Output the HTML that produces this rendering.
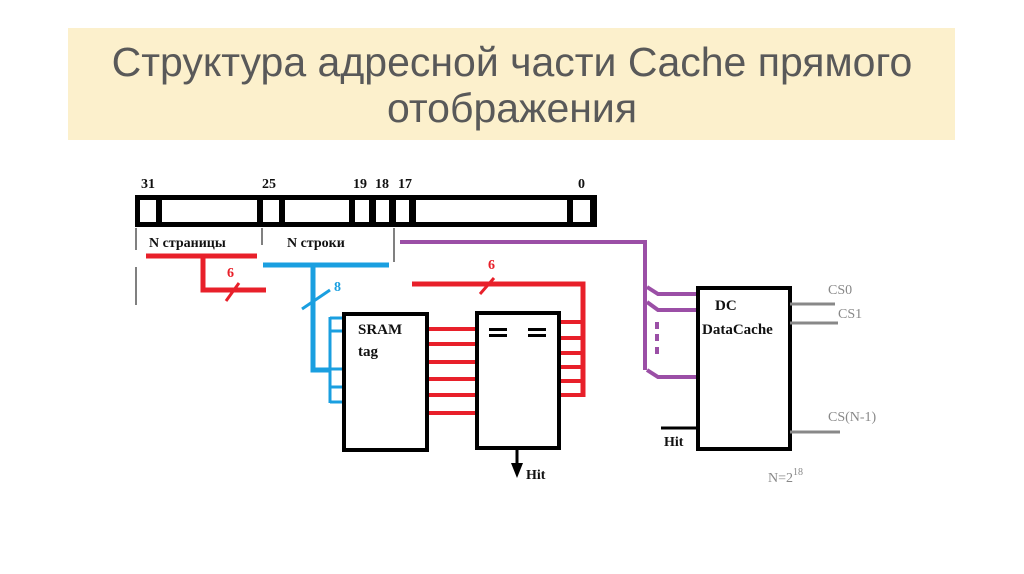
<!DOCTYPE html>
<html><head><meta charset="utf-8"><style>
html,body{margin:0;padding:0;background:#fff;width:1024px;height:574px;overflow:hidden}
</style></head><body>
<svg width="1024" height="574" xmlns="http://www.w3.org/2000/svg">
<rect x="68" y="28" width="887" height="112" fill="#fcf0cc"/>
<g font-family="Liberation Sans, sans-serif" font-size="41" fill="#595959" text-anchor="middle">
<text x="512" y="76">Структура адресной части Cache прямого</text>
<text x="512" y="122">отображения</text>
</g>
<rect x="135" y="195" width="462" height="32" fill="#000"/>
<g fill="#fff">
<rect x="140" y="200" width="16" height="22"/><rect x="162" y="200" width="95" height="22"/>
<rect x="263" y="200" width="16" height="22"/><rect x="285" y="200" width="64" height="22"/>
<rect x="355" y="200" width="14" height="22"/><rect x="376" y="200" width="13" height="22"/>
<rect x="396" y="200" width="13" height="22"/><rect x="416" y="200" width="151" height="22"/>
<rect x="573" y="200" width="17" height="22"/>
</g>
<g stroke="#000" stroke-width="1">
<line x1="136" y1="228" x2="136" y2="250"/><line x1="136" y1="267" x2="136" y2="305"/>
<line x1="262" y1="228" x2="262" y2="245"/><line x1="394" y1="228" x2="394" y2="262"/>
</g>
<g stroke="#e8202a" stroke-width="5" fill="none">
<line x1="146" y1="256" x2="257" y2="256"/><polyline points="203,256 203,290 266,290"/>
<line x1="226" y1="301" x2="239" y2="283" stroke-width="3"/>
<polyline points="412,284 583,284 583,397"/>
<line x1="480" y1="294" x2="494" y2="278" stroke-width="3"/>
</g>
<g stroke="#e8202a" stroke-width="4">
<line x1="428" y1="329" x2="477" y2="329"/><line x1="428" y1="344" x2="477" y2="344"/>
<line x1="428" y1="362" x2="477" y2="362"/><line x1="428" y1="379" x2="477" y2="379"/>
<line x1="428" y1="395" x2="477" y2="395"/><line x1="428" y1="413" x2="477" y2="413"/>
<line x1="560" y1="322" x2="583" y2="322"/><line x1="560" y1="338" x2="583" y2="338"/>
<line x1="560" y1="353" x2="583" y2="353"/><line x1="560" y1="367" x2="583" y2="367"/>
<line x1="560" y1="381" x2="583" y2="381"/><line x1="560" y1="395" x2="583" y2="395"/>
</g>
<g stroke="#1a9fe0" fill="none">
<line x1="263" y1="265" x2="389" y2="265" stroke-width="5"/>
<polyline points="313,265 313,370 330,370" stroke-width="5"/>
<line x1="302" y1="309" x2="330" y2="290" stroke-width="3"/>
<line x1="330" y1="317" x2="330" y2="403" stroke-width="3"/>
<g stroke-width="3"><line x1="330" y1="318" x2="343" y2="318"/><line x1="330" y1="331" x2="343" y2="331"/>
<line x1="330" y1="369" x2="343" y2="369"/><line x1="330" y1="387" x2="343" y2="387"/><line x1="330" y1="402" x2="343" y2="402"/></g>
</g>
<rect x="344" y="314" width="83" height="136" fill="#fff" stroke="#000" stroke-width="4"/>
<rect x="477" y="313" width="82" height="135" fill="#fff" stroke="#000" stroke-width="4"/>
<g fill="#000">
<rect x="489" y="328" width="18" height="3"/><rect x="489" y="334" width="18" height="3"/>
<rect x="528" y="328" width="18" height="3"/><rect x="528" y="334" width="18" height="3"/>
<polygon points="511,463 523,463 517,478"/>
</g>
<line x1="517" y1="449" x2="517" y2="465" stroke="#000" stroke-width="3"/>
<g stroke="#9b4fa6" stroke-width="4" fill="none">
<polyline points="400,242 645,242 645,370"/>
<polyline points="647,287 658,294 697,294"/><polyline points="647,302 658,310 697,310"/>
<polyline points="647,370 658,377 697,377"/>
<line x1="657" y1="322" x2="657" y2="329"/><line x1="657" y1="334" x2="657" y2="341"/><line x1="657" y1="347" x2="657" y2="354"/>
</g>
<rect x="698" y="288" width="92" height="161" fill="#fff" stroke="#000" stroke-width="4"/>
<line x1="661" y1="428" x2="698" y2="428" stroke="#000" stroke-width="3"/>
<g stroke="#888" stroke-width="3">
<line x1="790" y1="304" x2="835" y2="304"/><line x1="790" y1="323" x2="838" y2="323"/>
<line x1="790" y1="432" x2="840" y2="432"/>
</g>
<g font-family="Liberation Serif, serif" font-size="14" fill="#888">
<text x="828" y="294">CS0</text><text x="838" y="318">CS1</text><text x="828" y="421">CS(N-1)</text>
<text x="768" y="482">N=2<tspan font-size="10" dy="-7">18</tspan></text>
</g>
<g font-family="Liberation Serif, serif" font-weight="bold" font-size="14">
<text x="227" y="277" fill="#e8202a">6</text><text x="488" y="269" fill="#e8202a">6</text>
<text x="334" y="291" fill="#1a9fe0">8</text>
</g>
<g font-family="Liberation Serif, serif" font-weight="bold" font-size="14" fill="#111">
<text x="141" y="188">31</text><text x="262" y="188">25</text><text x="353" y="188">19</text>
<text x="375" y="188">18</text><text x="398" y="188">17</text><text x="578" y="188">0</text>
<text x="149" y="247">N страницы</text><text x="287" y="247">N строки</text>
<text x="358" y="334" font-size="15">SRAM</text><text x="358" y="356" font-size="15">tag</text>
<text x="526" y="479">Hit</text>
<text x="715" y="310" font-size="15">DC</text><text x="702" y="334" font-size="15">DataCache</text>
<text x="664" y="446">Hit</text>
</g>
</svg>
</body></html>
